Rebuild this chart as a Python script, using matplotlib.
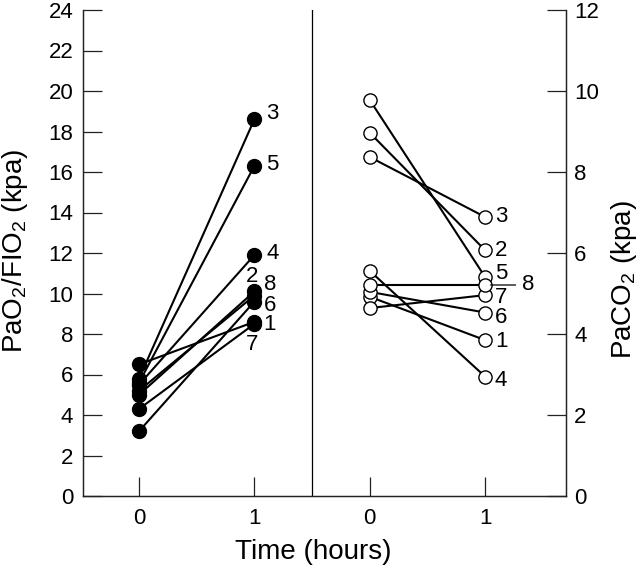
import matplotlib
matplotlib.use("Agg")
import matplotlib.pyplot as plt

plt.rcParams['font.family'] = ['Liberation Sans', 'DejaVu Sans']
plt.rcParams['mathtext.default'] = 'regular'

# ---- data ----
subjects = ['1', '2', '3', '4', '5', '6', '7', '8']
pao2_t0 = [6.5, 5.0, 5.8, 5.5, 5.6, 3.2, 4.3, 5.2]
pao2_t1 = [8.6, 10.1, 18.6, 11.9, 16.3, 9.6, 8.5, 9.9]
paco2_t0 = [4.92, 8.97, 8.37, 5.56, 9.78, 5.04, 4.64, 5.21]
paco2_t1 = [3.85, 6.07, 6.89, 2.95, 5.41, 4.53, 4.96, 5.21]
x_ticklabels = ['0', '1', '0', '1']
left_yticks = list(range(0, 25, 2))
right_yticks = list(range(0, 13, 2))

# ---- label offsets (pixels: dx right, dy up) ----
left_off = {'1': (15, -3), '2': (-2, 14.5), '3': (18, 6), '4': (18, 2),
            '5': (18, 1), '6': (16, -4), '7': (-2, -21), '8': (16, 11)}
right_off = {'1': (16, -1.6), '2': (16, 0), '3': (16, 0), '4': (16, -3.5),
             '5': (16, 3.5), '6': (16, -4.5), '7': (16, -2), '8': (43, 0)}
PX = 0.72  # points per pixel at dpi 100

W, H = 640, 566
fig = plt.figure(figsize=(W / 100, H / 100), dpi=100)
ax = fig.add_axes([83 / W, 1 - 496 / H, (566 - 83) / W, 486 / H])
ax2 = ax.twinx()

xl0, xl1, xr0, xr1 = 0, 1, 2, 3
ax.set_xlim(-0.486, 3.702)
ax.set_ylim(0, 24)
ax2.set_ylim(0, 12)

lw = 1.5
ms = 10
# left panel: filled circles
for a, b in zip(pao2_t0, pao2_t1):
    ax.plot([xl0, xl1], [a, b], color='black', lw=lw, zorder=2, solid_capstyle='butt')
ax.plot([xl0] * len(pao2_t0), pao2_t0, 'o', color='black', ms=ms, zorder=3, ls='none')
ax.plot([xl1] * len(pao2_t1), pao2_t1, 'o', color='black', ms=ms, zorder=3, ls='none')

# right panel: open circles
for a, b in zip(paco2_t0, paco2_t1):
    ax2.plot([xr0, xr1], [a, b], color='black', lw=lw, zorder=2, solid_capstyle='butt')
ax2.plot([xr0] * len(paco2_t0), paco2_t0, 'o', mfc='white', mec='black', mew=1.0,
         ms=9.5, zorder=3, ls='none')
ax2.plot([xr1] * len(paco2_t1), paco2_t1, 'o', mfc='white', mec='black', mew=1.0,
         ms=9.5, zorder=3, ls='none')

fs_lab = 16
for s, v in zip(subjects, pao2_t1):
    dx, dy = left_off[s]
    ax.annotate(s, xy=(xl1, v), xytext=(dx * PX, dy * PX), textcoords='offset points',
                ha='center', va='center', fontsize=fs_lab)
for s, v in zip(subjects, paco2_t1):
    dx, dy = right_off[s]
    if s == '8':
        ax2.annotate(s, xy=(xr1, v), xytext=(dx * PX, dy * PX), textcoords='offset points',
                     ha='center', va='center', fontsize=fs_lab,
                     arrowprops=dict(arrowstyle='-', color='black', lw=0.9,
                                     shrinkA=2.5, shrinkB=4))
    else:
        ax2.annotate(s, xy=(xr1, v), xytext=(dx * PX, dy * PX), textcoords='offset points',
                     ha='center', va='center', fontsize=fs_lab)

# divider
ax.axvline(1.5, color='black', lw=0.9, zorder=1)

# axes styling
spc = '#222222'
for a in (ax, ax2):
    a.spines['top'].set_visible(False)
    for sp in ('left', 'right', 'bottom'):
        a.spines[sp].set_linewidth(0.9)
        a.spines[sp].set_color(spc)
ax.set_xticks([xl0, xl1, xr0, xr1])
ax.set_xticklabels(x_ticklabels)
ax.set_yticks(left_yticks)
ax2.set_yticks(right_yticks)
ax.tick_params(axis='both', direction='in', length=13.5, width=0.9, color=spc,
               labelsize=16)
ax.tick_params(axis='x', pad=9)
ax.tick_params(axis='y', pad=7)
ax2.tick_params(axis='y', direction='in', length=13.5, width=0.9, color=spc,
                labelsize=16, pad=6)

fig.text(15 / W, 1 - 251 / H, r'PaO$_2$/FIO$_2$ (kpa)', rotation=90,
         ha='center', va='center', fontsize=20)
fig.text(624 / W, 1 - 280 / H, r'PaCO$_2$ (kpa)', rotation=90,
         ha='center', va='center', fontsize=20)
fig.text(313 / W, 1 - 552 / H, 'Time (hours)', ha='center', va='center', fontsize=20)

fig.savefig('out.png', dpi=100)
